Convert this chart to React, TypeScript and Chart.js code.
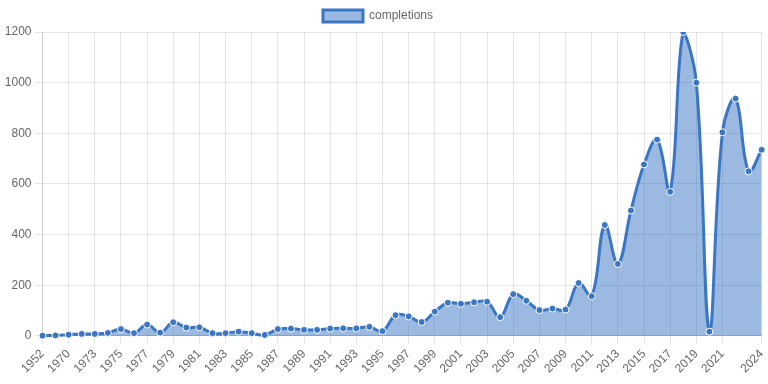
import React, { useEffect, useRef } from "react";
import { Chart, registerables } from "chart.js";

Chart.register(...registerables);

const years: string[] = [
  "1952", "1969", "1970", "1972", "1973", "1974", "1975", "1976", "1977", "1978",
  "1979", "1980", "1981", "1982", "1983", "1984", "1985", "1986", "1987", "1988",
  "1989", "1990", "1991", "1992", "1993", "1994", "1995", "1996", "1997", "1998",
  "1999", "2000", "2001", "2002", "2003", "2004", "2005", "2006", "2007", "2008",
  "2009", "2010", "2011", "2012", "2013", "2014", "2015", "2016", "2017", "2018",
  "2019", "2020", "2021", "2022", "2023", "2024",
];

const completions: number[] = [
  1, 2, 5, 8, 8, 12, 27, 11, 45, 13,
  54, 33, 34, 11, 11, 17, 11, 4, 27, 29,
  24, 24, 29, 30, 30, 36, 19, 82, 77, 55,
  96, 131, 127, 133, 135, 74, 165, 139, 102, 108,
  104, 209, 157, 438, 284, 495, 677, 775, 569, 1200,
  1000, 17, 804, 937, 650, 735,
];

const seriesLabel = "completions";

// show every second year label, plus the last one (drop the one right before it)
function xTickLabel(index: number): string | null {
  const last = years.length - 1;
  if (index === last) return years[index];
  if (index % 2 === 0 && last - index >= 2) return years[index];
  return null;
}

export default function App() {
  const ref = useRef<HTMLCanvasElement | null>(null);
  useEffect(() => {
    if (!ref.current) return;
    const chart = new Chart(ref.current, {
      type: "line",
      data: {
        labels: years,
        datasets: [
          {
            label: seriesLabel,
            data: completions,
            borderColor: "#3a76c3",
            backgroundColor: "rgba(58,118,195,0.5)",
            pointBackgroundColor: "#3a76c3",
            pointBorderColor: "#ffffff",
            pointBorderWidth: 1,
            pointRadius: 3.5,
            borderWidth: 3,
            tension: 0.4,
            fill: true,
          },
        ],
      },
      options: {
        animation: false,
        responsive: true,
        maintainAspectRatio: false,
        plugins: {
          legend: { display: true, position: "top" },
          tooltip: { enabled: false },
        },
        scales: {
          x: {
            ticks: {
              minRotation: 45,
              maxRotation: 45,
              autoSkip: false,
              callback: (_v: any, index: number) => xTickLabel(index),
            },
            afterFit: (scale: any) => {
              scale.paddingRight = 5.3;
            },
          },
          y: {
            beginAtZero: true,
            max: 1200,
            ticks: { stepSize: 200, callback: (v: any) => String(v) },
            afterFit: (scale: any) => {
              scale.width = 53.5;
            },
          },
        },
      },
    });
    return () => chart.destroy();
  }, []);
  return (
    <div style={{ position: "absolute", left: -11, top: 0, width: 778, height: 379 }}>
      <canvas ref={ref} />
    </div>
  );
}
